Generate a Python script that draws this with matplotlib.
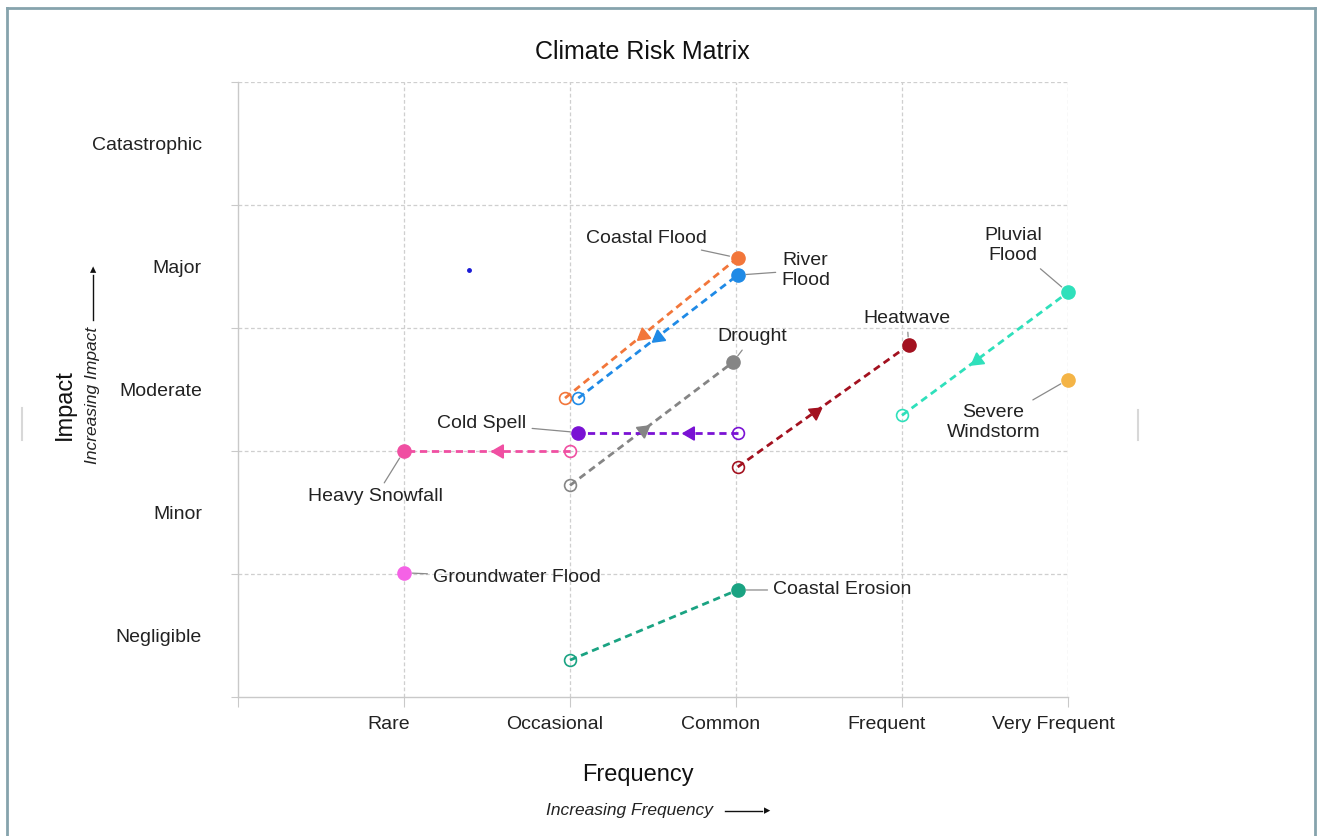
import numpy as np
import matplotlib
matplotlib.use("Agg")
import matplotlib.pyplot as plt
from matplotlib.lines import Line2D

plt.rcParams['font.family'] = ['Liberation Sans', 'DejaVu Sans']

# ---- data -------------------------------------------------------------
freq_labels = ["Rare", "Occasional", "Common", "Frequent", "Very Frequent"]
impact_labels = ["Negligible", "Minor", "Moderate", "Major", "Catastrophic"]

hazards = ["Coastal Flood", "River\nFlood", "Drought", "Cold Spell",
           "Heavy Snowfall", "Heatwave", "Pluvial\nFlood", "Coastal Erosion"]
freq_now = [1.97, 2.05, 2.00, 3.01, 2.00, 3.01, 4.00, 2.00]
impact_now = [2.43, 2.43, 1.72, 2.15, 2.00, 1.87, 2.29, 0.30]
freq_future = [3.01, 3.01, 2.98, 2.05, 1.00, 4.04, 5.00, 3.01]
impact_future = [3.57, 3.43, 2.72, 2.15, 2.00, 2.86, 3.29, 0.87]
hazard_colors = ["#f2763a", "#1f8ae6", "#858585", "#7a12d4", "#f04fa2",
                 "#a3111f", "#2fe0bb", "#1aa382"]

static_hazards = ["Severe\nWindstorm", "Groundwater Flood"]
static_freq = [5.00, 1.00]
static_impact = [2.58, 1.01]
static_colors = ["#f4b446", "#f562e6"]

stray_freq = [1.39]
stray_impact = [3.47]

# ---- layout bits (label placement, arrow look) -------------------------
label_pos = {
    "Coastal Flood": (2.46, 3.73),
    "River\nFlood": (3.42, 3.47),
    "Drought": (3.10, 2.93),
    "Cold Spell": (1.47, 2.22),
    "Heavy Snowfall": (0.83, 1.63),
    "Heatwave": (4.03, 3.08),
    "Pluvial\nFlood": (4.67, 3.67),
    "Coastal Erosion": (3.64, 0.87),
    "Severe\nWindstorm": (4.55, 2.23),
    "Groundwater Flood": (1.68, 0.97),
}
arrow_dir = [-1, -1, 1, 1, 1, 1, -1, 0]
arrow_frac = [0.45, 0.5, 0.45, 0.3, 0.43, 0.45, 0.45, 0.5]

W, H = 1319, 836
fig = plt.figure(figsize=(W / 100, H / 100), dpi=100)
ax = fig.add_axes([238 / W, 1 - 697 / H, (1068 - 238) / W, (697 - 82) / H])

ax.set_xlim(0, 5)
ax.set_ylim(0, 5)

# spines / grid
for s in ["top", "right"]:
    ax.spines[s].set_visible(False)
for s in ["left", "bottom"]:
    ax.spines[s].set_color("#c9c9c9")
    ax.spines[s].set_linewidth(1.0)

ax.set_xticks(np.arange(0, 6))
ax.set_xticklabels([])
ax.set_yticks(np.arange(0, 6))
ax.set_yticklabels([])
ax.tick_params(axis="x", which="major", length=7, color="#c9c9c9")
ax.tick_params(axis="y", which="major", length=5, color="#c9c9c9")

ax.set_xticks(np.arange(1, 6) - 0.09, minor=True)
ax.set_xticklabels(freq_labels, minor=True, fontsize=14, color="#222222")
ax.set_yticks(np.arange(0, 5) + 0.5, minor=True)
ax.set_yticklabels(impact_labels, minor=True, fontsize=14, color="#222222")
ax.tick_params(axis="x", which="minor", length=0, pad=14)
ax.tick_params(axis="y", which="minor", length=0, pad=26)

for v in range(1, 6):
    ax.axvline(v, color="#cfcfcf", lw=0.9, ls=(0, (3, 2)), zorder=0)
    ax.axhline(v, color="#cfcfcf", lw=0.9, ls=(0, (3, 2)), zorder=0)

leader = dict(arrowstyle="-", color="#8a8a8a", lw=0.9, shrinkA=2, shrinkB=6)

# ---- hazard trajectories --------------------------------------------------
for i, name in enumerate(hazards):
    c = hazard_colors[i]
    x0, y0 = freq_now[i], impact_now[i]
    x1, y1 = freq_future[i], impact_future[i]
    ax.plot([x0, x1], [y0, y1], color=c, lw=2.0, ls=(0, (2.6, 1.7)), zorder=2)
    ax.plot(x0, y0, "o", ms=8.5, mfc="none", mec=c, mew=1.2, zorder=3,
            clip_on=False)
    ax.plot(x1, y1, "o", ms=9.5, color=c, zorder=4, clip_on=False)

    if arrow_dir[i] != 0:
        f = arrow_frac[i]
        mx, my = x0 + f * (x1 - x0), y0 + f * (y1 - y0)
        p0 = ax.transData.transform((x0, y0))
        p1 = ax.transData.transform((x1, y1))
        d = (p1 - p0) * arrow_dir[i]
        theta = np.degrees(np.arctan2(d[1], d[0]))
        ax.plot(mx, my, marker=(3, 0, theta - 90), ms=11, color=c, zorder=3)

    tx, ty = label_pos[name]
    ax.annotate(name, xy=(x1, y1), xytext=(tx, ty), ha="center", va="center",
                fontsize=14, color="#222222", linespacing=1.25,
                arrowprops=leader, zorder=5)

for i, name in enumerate(static_hazards):
    ax.plot(static_freq[i], static_impact[i], "o", ms=9.5,
            color=static_colors[i], zorder=4, clip_on=False)
    tx, ty = label_pos[name]
    ax.annotate(name, xy=(static_freq[i], static_impact[i]), xytext=(tx, ty),
                ha="center", va="center", fontsize=14, color="#222222",
                linespacing=1.25, arrowprops=leader, zorder=5)

ax.plot(stray_freq, stray_impact, "o", ms=2.5, color="#1a1ad6", zorder=4)

# ---- titles / axis labels ----------------------------------------------
fig.text(642 / W, 1 - 52 / H, "Climate Risk Matrix", ha="center", va="center",
         fontsize=18, color="#111111")
fig.text(638 / W, 1 - 775 / H, "Frequency", ha="center", va="center",
         fontsize=17, color="#111111")
fig.text(630 / W, 1 - 810 / H, "Increasing Frequency", ha="center",
         va="center", fontsize=12.5, style="italic", color="#222222")
fig.add_artist(plt.Line2D([725 / W, 762 / W], [1 - 811 / H, 1 - 811 / H],
                          color="#111111", lw=1.0))
fig.text(767 / W, 1 - 811 / H, "\u25b8", ha="center", va="center",
         fontsize=9, color="#111111")

fig.text(65 / W, 1 - 405 / H, "Impact", ha="center", va="center",
         rotation=90, fontsize=17, color="#111111")
fig.text(93 / W, 1 - 395 / H, "Increasing Impact", ha="center",
         va="center", rotation=90, fontsize=12.5, style="italic",
         color="#222222")
fig.add_artist(plt.Line2D([93 / W, 93 / W], [1 - 320 / H, 1 - 275 / H],
                          color="#111111", lw=1.0))
fig.text(93 / W, 1 - 270 / H, "\u25b4", ha="center", va="center",
         fontsize=9, color="#111111")

# ---- screenshot frame --------------------------------------------------
frame_c = "#86a3ad"
fig.add_artist(Line2D([7 / W, 7 / W], [0, 1 - 8 / H], color=frame_c, lw=2))
fig.add_artist(Line2D([7 / W, 1315 / W], [1 - 8 / H, 1 - 8 / H],
                      color=frame_c, lw=2))
fig.add_artist(Line2D([1315 / W, 1315 / W], [0, 1 - 8 / H], color=frame_c, lw=2))
fig.add_artist(Line2D([22 / W, 22 / W], [1 - 440 / H, 1 - 408 / H],
                      color="#d8d8d8", lw=1.5))
fig.add_artist(Line2D([1138 / W, 1138 / W], [1 - 440 / H, 1 - 410 / H],
                      color="#d8d8d8", lw=1.5))

fig.savefig("out.png", dpi=100, facecolor="white")
